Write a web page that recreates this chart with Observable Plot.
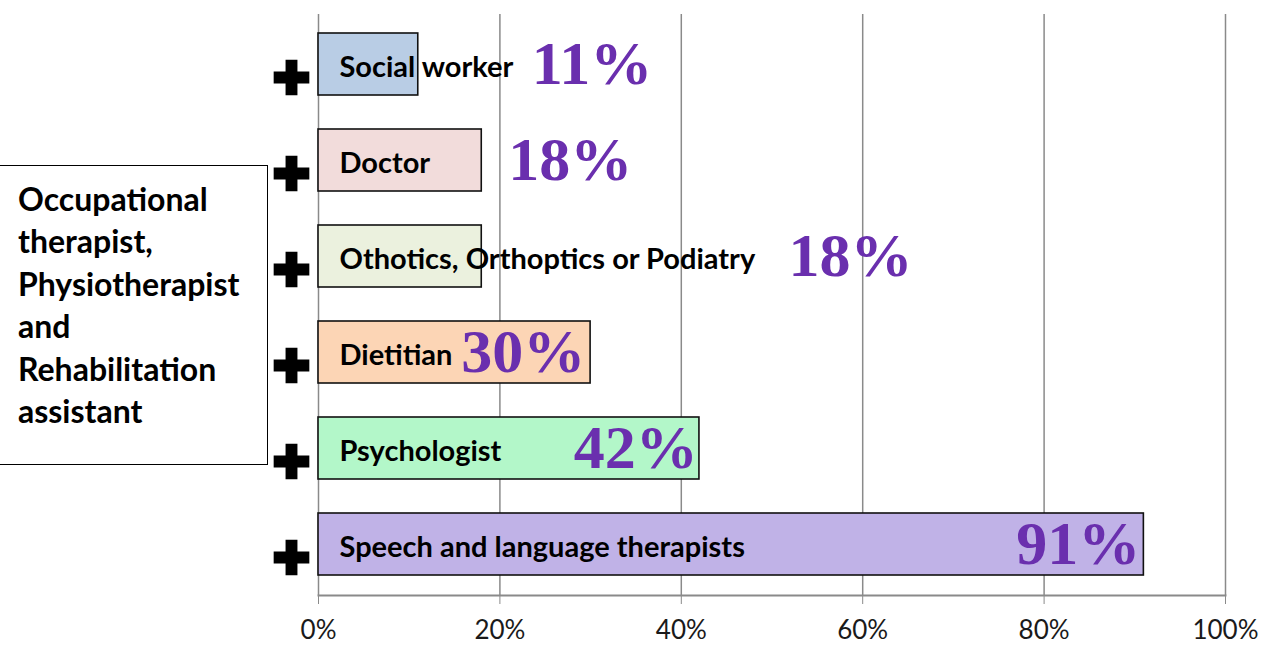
<!DOCTYPE html>
<html>
<head>
<meta charset="utf-8">
<script src="https://cdn.jsdelivr.net/npm/d3@7"></script>
<script src="https://cdn.jsdelivr.net/npm/@observablehq/plot@0.6"></script>
<style>
  html, body { margin: 0; padding: 0; background: #fff; }
  #wrap { position: relative; width: 1271px; height: 646px; overflow: hidden; }
  #note {
    position: absolute; left: -2px; top: 165px; width: 270px; height: 300px;
    box-sizing: border-box; border: 1.5px solid #000; background: #fff;
    font-family: Lato, "Open Sans", sans-serif; font-weight: bold; font-size: 32px;
    line-height: 42.4px; padding: 12px 0 0 19px; color: #000;
  }
</style>
</head>
<body>
<div id="wrap"></div>
<script>
const categories = ["Social worker", "Doctor", "Othotics, Orthoptics or Podiatry", "Dietitian", "Psychologist", "Speech and language therapists"];
const values = [11, 18, 18, 30, 42, 91];
const barColors = ["#B9CDE5", "#F2DCDB", "#EBF1DE", "#FCD5B5", "#B3F7C9", "#C0B2E7"];
// where the percentage label ends (in % units of the x axis)
const pctLabelEnd = [36.8, 34.6, 65.5, 29.4, 41.8, 90.6];
const xTicks = [0, 20, 40, 60, 80, 100];
const noteLines = ["Occupational", "therapist,", "Physiotherapist", "and", "Rehabilitation", "assistant"];

const data = categories.map((name, i) => ({name, value: values[i], color: barColors[i], labelEnd: pctLabelEnd[i]}));

const chart = Plot.plot({
  width: 1271,
  height: 646,
  marginLeft: 318,
  marginRight: 46,
  marginTop: 14,
  marginBottom: 51,
  style: {background: "transparent", overflow: "visible"},
  x: {domain: [0, 100], ticks: xTicks, tickFormat: d => d + "%"},
  y: {domain: categories, paddingInner: 0.35, paddingOuter: 0.175, axis: null},
  color: {type: "identity"},
  marks: [
    Plot.ruleX(xTicks, {stroke: "#8a8a8a", strokeWidth: 1.5}),
    Plot.frame({anchor: "bottom", stroke: "#8a8a8a", strokeWidth: 2}),
    Plot.axisX({ticks: xTicks, tickSize: 9, tickPadding: 16, fontSize: 26, stroke: "#8a8a8a",
      fontFamily: "Lato, 'Open Sans', sans-serif", fill: "#1a1a1a", tickFormat: d => d + "%"}),
    Plot.barX(data, {x: "value", y: "name", fill: "color", stroke: "#111", strokeWidth: 1.6}),
    Plot.dot(data, {x: 0, y: "name", symbol: "cross", r: 15, fill: "#000", stroke: "none", dx: -27, dy: 13}),
    Plot.text(data, {x: 0, y: "name", text: "name", textAnchor: "start", dx: 21, dy: 3,
      fontSize: 29, fontWeight: "bold", fontFamily: "Lato, 'Open Sans', sans-serif", fill: "#000"}),
    Plot.text(data, {x: "labelEnd", y: "name", text: d => d.value + "%", textAnchor: "end", dy: 0,
      fontSize: 62, fontWeight: "bold", fontFamily: "'Liberation Serif', 'DejaVu Serif', serif", fill: "#6A2FAE"})
  ]
});

const wrap = document.getElementById("wrap");
wrap.appendChild(chart);
const note = document.createElement("div");
note.id = "note";
note.innerHTML = noteLines.join("<br>");
wrap.appendChild(note);
</script>
</body>
</html>
